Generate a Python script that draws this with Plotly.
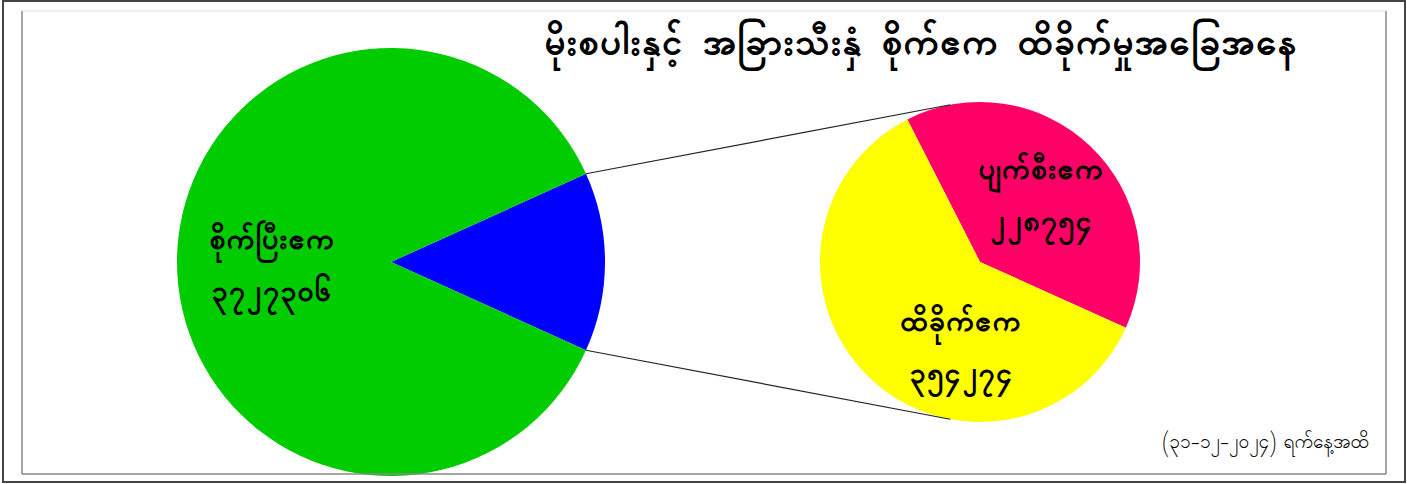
import math
import plotly.graph_objects as go

# data
main_labels = ["ပျက်စီး+ထိခိုက်", "စိုက်ပြီးဧက"]
main_values = [228754 + 354274, 3727306]
main_text = ["", "၃၇၂၇၃၀၆"]

sub_labels = ["ပျက်စီးဧက", "ထိခိုက်ဧက"]
sub_values = [228754, 354274]
sub_text = ["၂၂၈၇၅၄", "၃၅၄၂၇၄"]

TITLE = "မိုးစပါးနှင့် အခြားသီးနှံ စိုက်ဧက ထိခိုက်မှုအခြေအနေ"
FOOTER = "(၃၁-၁၂-၂၀၂၄) ရက်နေ့အထိ"

# layout geometry (pixels)
W, H = 1407, 484
FONT = "Padauk, 'Noto Sans Myanmar', 'Myanmar Text', 'Noto Sans', sans-serif"
C1, R1 = (391, 262), 214
C2, R2 = (980, 262), 160
SUB_START = -27        # degrees clockwise from 12 o'clock
LINK_ANGLE = 10.7      # where connector lines meet the small pie
LABEL_POS = {"main": [(None, None), (-0.56, 0.02)],
             "sub": [(0.38, -0.41), (-0.12, 0.54)]}
LABEL_SIZE = 30


def px(x):
    return x / W


def py(y):
    return 1 - y / H


def dom(c, r):
    return dict(x=[px(c[0] - r), px(c[0] + r)], y=[py(c[1] + r), py(c[1] - r)])


def text_ann(x, y, text, size):
    return dict(x=px(x), y=py(y), xref="paper", yref="paper", text=text,
                xanchor="center", yanchor="middle", showarrow=False,
                font=dict(size=size, color="black", family=FONT))


share = main_values[0] / sum(main_values) * 360

fig = go.Figure()
fig.add_trace(go.Pie(values=main_values, labels=main_labels, sort=False,
                     direction="clockwise", rotation=90 - share / 2,
                     marker=dict(colors=["#0000FF", "#00CC00"]),
                     textinfo="none", hoverinfo="label+value",
                     domain=dom(C1, R1), showlegend=False))
fig.add_trace(go.Pie(values=sub_values, labels=sub_labels, sort=False,
                     direction="clockwise", rotation=SUB_START,
                     marker=dict(colors=["#FF0066", "#FFFF00"]),
                     textinfo="none", hoverinfo="label+value",
                     domain=dom(C2, R2), showlegend=False))

ann = []
for (lab, val, pos, c, r) in [(main_labels[1], main_text[1], LABEL_POS["main"][1], C1, R1),
                              (sub_labels[0], sub_text[0], LABEL_POS["sub"][0], C2, R2),
                              (sub_labels[1], sub_text[1], LABEL_POS["sub"][1], C2, R2)]:
    x = c[0] + pos[0] * r
    y = c[1] + pos[1] * r
    ann.append(text_ann(x, y - 25, f"<b>{lab}</b>", LABEL_SIZE))
    ann.append(text_ann(x, y + 27, f"<b>{val}</b>", LABEL_SIZE))

ann.append(text_ann(920, 45, f"<b>{TITLE}</b>", 38))
ann.append(text_ann(1265, 443, FOOTER, 19))

# connector lines from the small slice edges to the sub pie
shapes = []
a = math.radians(share / 2)
b = math.radians(LINK_ANGLE)
for s in (-1, 1):
    x0 = C1[0] + R1 * math.cos(a)
    y0 = C1[1] + s * R1 * math.sin(a)
    x1 = C2[0] - R2 * math.sin(b)
    y1 = C2[1] + s * R2 * math.cos(b)
    shapes.append(dict(type="line", xref="paper", yref="paper", x0=px(x0), y0=py(y0),
                       x1=px(x1), y1=py(y1), line=dict(color="#222222", width=1.2)))

# frames
shapes += [
    dict(type="line", xref="paper", yref="paper", x0=px(22), y0=py(11), x1=px(1386), y1=py(11),
         line=dict(color="#dddddd", width=1)),
    dict(type="line", xref="paper", yref="paper", x0=px(1386), y0=py(11), x1=px(1386), y1=py(474),
         line=dict(color="#888888", width=1.5)),
    dict(type="line", xref="paper", yref="paper", x0=px(22), y0=py(474), x1=px(1386), y1=py(474),
         line=dict(color="#888888", width=1.5)),
    dict(type="line", xref="paper", yref="paper", x0=px(22), y0=py(11), x1=px(22), y1=py(474),
         line=dict(color="#888888", width=1.5)),
    dict(type="rect", xref="paper", yref="paper", x0=px(3), y0=py(1), x1=px(1405), y1=py(482),
         line=dict(color="#444444", width=2)),
]

fig.update_layout(width=W, height=H, margin=dict(l=0, r=0, t=0, b=0),
                  paper_bgcolor="white", plot_bgcolor="white",
                  annotations=ann, shapes=shapes)
fig.write_html("out.html", config={"displayModeBar": False},
               post_script="document.body.style.margin='0';document.body.style.overflow='hidden';")
